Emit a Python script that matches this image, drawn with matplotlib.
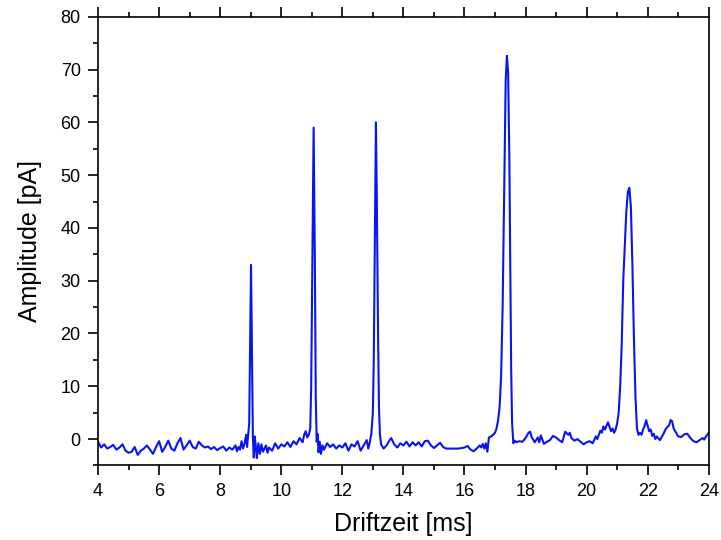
import matplotlib
matplotlib.use("Agg")
import matplotlib.pyplot as plt
from matplotlib.ticker import MultipleLocator

# %% Daten
driftzeit = [4.0, 4.1, 4.2, 4.3, 4.4, 4.5, 4.6, 4.7, 4.8, 4.9,
             5.0, 5.1, 5.2, 5.3, 5.4, 5.5, 5.6, 5.7, 5.8, 5.9,
             6.0, 6.1, 6.2, 6.3, 6.4, 6.5, 6.6, 6.7, 6.8, 6.9,
             7.0, 7.1, 7.2, 7.3, 7.4, 7.5, 7.6, 7.7, 7.8, 7.9,
             8.0, 8.1, 8.2, 8.3, 8.4, 8.5, 8.55, 8.6, 8.65, 8.7,
             8.75, 8.8, 8.85, 8.88, 8.92, 8.95, 8.98, 9.01, 9.04, 9.07,
             9.1, 9.13, 9.16, 9.2, 9.25, 9.3, 9.35, 9.4, 9.5, 9.55,
             9.6, 9.7, 9.8, 9.9, 10.0, 10.1, 10.2, 10.3, 10.4, 10.5,
             10.6, 10.7, 10.75, 10.8, 10.85, 10.9, 10.95, 10.98, 11.02, 11.06,
             11.1, 11.13, 11.16, 11.19, 11.22, 11.26, 11.3, 11.35, 11.4, 11.5,
             11.6, 11.7, 11.8, 11.9, 12.0, 12.1, 12.2, 12.3, 12.4, 12.5,
             12.6, 12.7, 12.8, 12.85, 12.9, 12.95, 13.0, 13.03, 13.06, 13.1,
             13.13, 13.17, 13.2, 13.23, 13.27, 13.35, 13.45, 13.55, 13.6, 13.7,
             13.8, 13.9, 14.0, 14.1, 14.2, 14.3, 14.4, 14.5, 14.6, 14.7,
             14.8, 14.9, 15.0, 15.1, 15.2, 15.3, 15.4, 15.6, 15.8, 16.0,
             16.1, 16.2, 16.3, 16.4, 16.5, 16.55, 16.6, 16.65, 16.7, 16.75,
             16.8, 16.9, 17.0, 17.05, 17.1, 17.15, 17.2, 17.25, 17.3, 17.35,
             17.39, 17.43, 17.47, 17.5, 17.53, 17.56, 17.6, 17.65, 17.7, 17.8,
             17.9, 18.0, 18.1, 18.15, 18.2, 18.3, 18.4, 18.45, 18.5, 18.6,
             18.7, 18.8, 18.9, 19.0, 19.1, 19.2, 19.3, 19.4, 19.45, 19.5,
             19.6, 19.7, 19.8, 19.9, 20.0, 20.1, 20.2, 20.3, 20.35, 20.45,
             20.5, 20.55, 20.6, 20.7, 20.8, 20.85, 20.9, 20.95, 21.0, 21.05,
             21.1, 21.15, 21.2, 21.3, 21.35, 21.4, 21.45, 21.5, 21.55, 21.6,
             21.65, 21.7, 21.75, 21.8, 21.85, 21.9, 21.95, 22.0, 22.05, 22.1,
             22.15, 22.2, 22.25, 22.3, 22.4, 22.5, 22.6, 22.7, 22.75, 22.8,
             22.85, 22.9, 23.0, 23.1, 23.2, 23.3, 23.4, 23.5, 23.6, 23.7,
             23.8, 23.85, 23.9, 24.0]

amplitude = [-0.5, -1.6, -1.0, -1.8, -1.5, -1.1, -2.0, -1.6, -1.0, -2.2,
             -2.6, -2.4, -1.5, -3.0, -2.2, -1.8, -1.2, -2.0, -2.8, -1.5,
             -0.4, -2.4, -1.5, -0.3, -1.8, -2.2, -0.8, 0.2, -2.0, -1.2,
             -0.3, -1.5, -1.8, -0.5, -1.2, -1.6, -1.4, -1.9, -1.5, -2.1,
             -1.7, -1.4, -2.2, -1.6, -2.0, -1.2, -2.3, -1.5, -2.0, -0.4,
             -1.8, -0.8, 0.8, -1.5, 1.2, 3.0, 18.0, 33.0, 17.0, 0.5,
             -3.5, 0.5, -1.0, -3.6, -0.8, -2.8, -1.0, -2.4, -1.2, -2.6,
             -1.6, -2.2, -0.8, -1.8, -1.0, -1.4, -0.6, -1.5, -0.4, -1.0,
             0.2, -0.6, 0.8, 1.5, 0.3, 0.8, 2.0, 10.0, 35.0, 59.0,
             34.0, 8.0, -0.5, 1.0, -2.5, -0.5, -2.8, -1.2, -2.0, -0.8,
             -1.5, -1.0, -1.8, -1.2, -1.6, -0.8, -2.2, -1.0, -1.4, -0.4,
             -2.2, -1.2, -0.2, -1.8, -0.6, 1.0, 5.0, 15.0, 35.0, 60.0,
             45.0, 20.0, 6.0, 1.0, -1.0, -1.8, -1.2, -0.2, 0.2, -1.0,
             -1.6, -0.8, -1.2, -0.5, -1.4, -0.6, -1.2, -0.6, -1.4, -0.4,
             -0.3, -1.2, -1.7, -1.2, -0.7, -1.5, -1.8, -1.8, -1.8, -1.6,
             -1.3, -2.0, -2.3, -1.8, -1.2, -1.6, -0.9, -1.8, -0.8, -2.4,
             0.3, 0.6, 1.2, 2.0, 3.5, 6.0, 12.0, 25.0, 47.0, 68.0,
             72.6, 69.5, 53.0, 32.0, 13.0, 3.0, -0.8, -0.3, -0.6, -0.4,
             -0.5, 0.2, 1.2, 1.4, 0.4, -0.6, 0.3, -0.6, 0.7, -0.9,
             -0.5, -0.2, 0.6, 0.3, -0.2, -0.6, 1.4, 0.8, 1.2, 0.2,
             -0.3, 0.0, -0.5, -1.0, -0.6, -0.4, -0.8, 0.5, 0.0, 1.6,
             1.2, 2.4, 1.8, 3.2, 1.5, 2.0, 1.2, 1.8, 3.0, 5.0,
             10.0, 18.0, 30.0, 43.0, 46.8, 47.6, 44.0, 33.0, 19.0, 8.0,
             2.0, 0.8, 1.2, 0.8, 1.8, 2.5, 3.6, 2.5, 1.5, 1.8,
             0.6, 1.0, 0.0, 0.5, -0.2, 0.8, 2.0, 2.6, 3.6, 3.4,
             2.0, 1.5, 0.5, 0.4, 0.9, 1.0, 0.2, -0.4, -0.6, -0.2,
             0.2, -0.1, 0.4, 1.2]

# %% Plot
plt.rcParams["font.family"] = ["Liberation Sans", "DejaVu Sans"]
fig = plt.figure(figsize=(7.21, 5.4), dpi=100)
ax = fig.add_axes([0.136, 0.138, 0.847, 0.831])
ax.plot(driftzeit, amplitude, color="#0a14f0", linewidth=1.5)

ax.set_xlim(4, 24)
ax.set_ylim(-5, 80)
ax.xaxis.set_major_locator(MultipleLocator(2))
ax.xaxis.set_minor_locator(MultipleLocator(1))
ax.yaxis.set_major_locator(MultipleLocator(10))
ax.yaxis.set_minor_locator(MultipleLocator(5))
ax.tick_params(which="both", direction="out", width=1.2, top=True, right=False,
               labeltop=False, labelsize=13, pad=5)
ax.tick_params(which="major", length=7.5)
ax.tick_params(which="minor", length=3.5)
for s in ax.spines.values():
    s.set_linewidth(1.2)

ax.set_xlabel("Driftzeit [ms]", fontsize=18, labelpad=9)
ax.set_ylabel("Amplitude [pA]", fontsize=18, labelpad=13)

fig.savefig("out.png", dpi=100)
